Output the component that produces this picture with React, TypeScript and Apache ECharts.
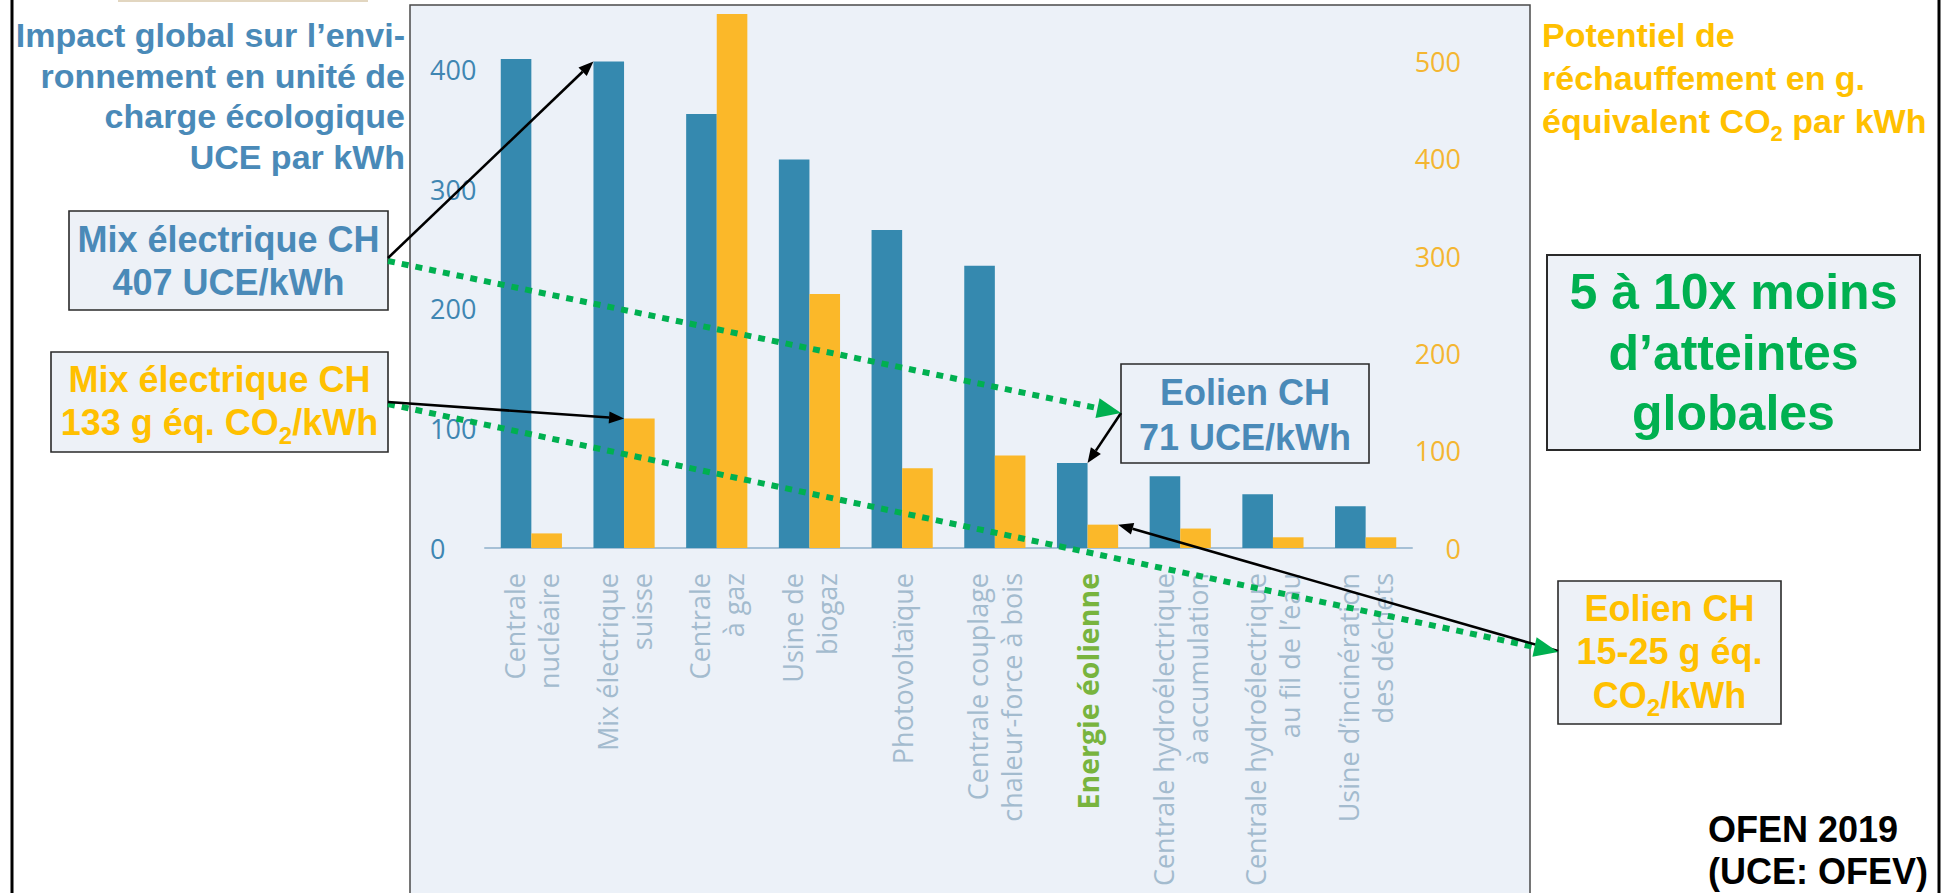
import React, { useEffect, useRef } from "react";
import * as echarts from "echarts";

// ---------- data ----------
const categories = [
  "Centrale\nnucléaire",
  "Mix électrique\nsuisse",
  "Centrale\nà gaz",
  "Usine de\nbiogaz",
  "Photovoltaïque",
  "Centrale couplage\nchaleur-force à bois",
  "Energie éolienne",
  "Centrale hydroélectrique\nà accumulation",
  "Centrale hydroélectrique\nau fil de l’eau",
  "Usine d’incinération\ndes déchets",
];
const highlightIndex = 6;
const uceValues = [409, 407, 363, 325, 266, 236, 71, 60, 45, 35];
const co2Values = [15, 133, 549, 261, 82, 95, 24, 20, 11, 11];
const leftAxisMax = 450;
const rightAxisMax = 553;
const axisInterval = 100;

// ---------- styles ----------
const ARIAL = "'Liberation Sans', Arial, Helvetica, sans-serif";
const AXISFONT = "'Open Sans', 'Noto Sans', sans-serif";
const BLUE_BAR = "#3589AF";
const ORANGE_BAR = "#FBB829";
const BLUE_TXT = "#4A8AB8";
const ORANGE_TXT = "#FFC000";
const GREEN_TXT = "#00B050";
const PANEL = "#ECF1F8";
const BOXFILL = "#EDF1F7";

function head(tx: number, ty: number, fx: number, fy: number, len: number, w: number) {
  const dx = tx - fx, dy = ty - fy;
  const d = Math.hypot(dx, dy);
  const ux = dx / d, uy = dy / d;
  const bx = tx - ux * len, by = ty - uy * len;
  const px = -uy, py = ux;
  return {
    base: [bx, by],
    points: [
      [tx, ty],
      [bx + (px * w) / 2, by + (py * w) / 2],
      [bx - (px * w) / 2, by - (py * w) / 2],
    ],
  };
}

function arrow(fx: number, fy: number, tx: number, ty: number, color: string, lw: number, len: number, w: number, dash?: number[]) {
  const h = head(tx, ty, fx, fy, len, w);
  return [
    {
      type: "line",
      z: 100,
      shape: { x1: fx, y1: fy, x2: h.base[0], y2: h.base[1] },
      style: { stroke: color, lineWidth: lw, lineDash: dash || null, lineCap: "butt" },
    },
    { type: "polygon", z: 101, shape: { points: h.points }, style: { fill: color } },
  ];
}

function textEl(x: number, y: number, text: string, rich: any, align: string, extra?: any) {
  return {
    type: "text",
    z: 102,
    x: 0,
    y: 0,
    style: {
      x,
      y,
      text,
      rich,
      align,
      verticalAlign: "middle",
      textAlign: align,
      textVerticalAlign: "middle",
      ...(extra || {}),
    },
  };
}

function richSet(color: string, fs: number, lh: number, subFs: number, subH: number) {
  return {
    t: { fontFamily: ARIAL, fontWeight: "bold", fontSize: fs, lineHeight: lh, fill: color, color },
    s: {
      fontFamily: ARIAL,
      fontWeight: "bold",
      fontSize: subFs,
      lineHeight: lh,
      height: subH,
      verticalAlign: "bottom",
      fill: color,
      color,
    },
  };
}

function boxRect(x: number, y: number, w: number, h: number, fill: string) {
  return {
    type: "rect",
    z: 99,
    shape: { x, y, width: w, height: h },
    style: { fill, stroke: "#2a2a2a", lineWidth: 1.6 },
  };
}

export default function App() {
  const ref = useRef<HTMLDivElement>(null);
  useEffect(() => {
    document.body.style.margin = "0";
    document.body.style.overflow = "hidden";
    const chart = echarts.init(ref.current!, null, { renderer: "svg" });
    chart.setOption({
      animation: false,
      grid: {
        left: 485,
        right: 536,
        top: 10,
        bottom: 345,
        containLabel: false,
        outerBoundsMode: "none",
      },
      xAxis: {
        type: "category",
        data: categories,
        axisLine: { show: true, lineStyle: { color: "#A6C0D6", width: 2 } },
        axisTick: { show: false },
        axisLabel: {
          interval: 0,
          rotate: 90,
          margin: 25,
          fontSize: 27,
          lineHeight: 34,
          fontFamily: AXISFONT,
          color: "#A3BBCE",
          hideOverlap: false,
          formatter: (v: string, i: number) => (i === highlightIndex ? `{g|${v}}` : v),
          rich: {
            g: { color: "#78B43E", fontWeight: "bold", fontSize: 28.5, fontFamily: AXISFONT, lineHeight: 34 },
          },
        },
      },
      yAxis: [
        {
          type: "value",
          min: 0,
          max: leftAxisMax,
          interval: axisInterval,
          axisLine: { show: false },
          axisTick: { show: false },
          splitLine: { show: false },
          axisLabel: {
            showMaxLabel: false,
            align: "left",
            margin: 55,
            fontSize: 27,
            fontFamily: AXISFONT,
            color: "#3F86B2",
          },
        },
        {
          type: "value",
          position: "right",
          min: 0,
          max: rightAxisMax,
          interval: axisInterval,
          axisLine: { show: false },
          axisTick: { show: false },
          splitLine: { show: false },
          axisLabel: {
            showMaxLabel: false,
            align: "right",
            margin: 49,
            fontSize: 27,
            fontFamily: AXISFONT,
            color: "#F4B631",
          },
        },
      ],
      series: [
        {
          type: "bar",
          name: "UCE/kWh",
          yAxisIndex: 0,
          data: uceValues,
          barGap: "0%",
          barCategoryGap: "34%",
          itemStyle: { color: BLUE_BAR },
        },
        {
          type: "bar",
          name: "g éq. CO2/kWh",
          yAxisIndex: 1,
          data: co2Values,
          barGap: "0%",
          barCategoryGap: "34%",
          itemStyle: { color: ORANGE_BAR },
        },
      ],
    });

    // bar geometry from the chart's own scales
    const c0 = chart.convertToPixel({ seriesIndex: 0 }, [0, 0]) as number[];
    const c1 = chart.convertToPixel({ seriesIndex: 0 }, [1, 0]) as number[];
    const band = c1[0] - c0[0];
    const bw = (band * (1 - 0.34)) / 2;
    const blueTop = (i: number) => {
      const p = chart.convertToPixel({ seriesIndex: 0 }, [i, uceValues[i]]) as number[];
      return { left: p[0] - bw, right: p[0], y: p[1] };
    };
    const orangeTop = (i: number) => {
      const p = chart.convertToPixel({ seriesIndex: 1 }, [i, co2Values[i]]) as number[];
      return { left: p[0], right: p[0] + bw, y: p[1] };
    };
    const mixB = blueTop(1);
    const mixO = orangeTop(1);
    const eolB = blueTop(6);
    const eolO = orangeTop(6);

    const graphics: any[] = [
      // panel background
      {
        type: "rect",
        z: -10,
        shape: { x: 410, y: 5, width: 1120, height: 900 },
        style: { fill: PANEL, stroke: "#4a4a4a", lineWidth: 1.5 },
      },
      // outer frame lines
      { type: "rect", z: 1, shape: { x: 10.5, y: 0, width: 3, height: 893 }, style: { fill: "#000" } },
      { type: "rect", z: 1, shape: { x: 1937.5, y: 0, width: 3, height: 893 }, style: { fill: "#000" } },
      { type: "rect", z: 1, shape: { x: 118, y: 0, width: 250, height: 2 }, style: { fill: "#E2D6C0" } },

      // left title
      textEl(405, 96, "Impact global sur l’envi-\nronnement en unité de\ncharge écologique\nUCE par kWh", undefined, "right", {
        fontFamily: ARIAL,
        fontWeight: "bold",
        fontSize: 34,
        lineHeight: 40.7,
        fill: BLUE_TXT,
      }),
      // right title
      textEl(
        1542,
        78,
        "{t|Potentiel de}\n{t|réchauffement en g.}\n{t|équivalent CO}{s|2}{t| par kWh}",
        richSet(ORANGE_TXT, 34, 43, 22, 18),
        "left"
      ),

      // box Mix CH UCE
      boxRect(69, 211, 319, 99, BOXFILL),
      textEl(228.5, 260.5, "Mix électrique CH\n407 UCE/kWh", undefined, "center", {
        fontFamily: ARIAL,
        fontWeight: "bold",
        fontSize: 36,
        lineHeight: 43,
        fill: BLUE_TXT,
      }),
      // box Mix CH CO2
      boxRect(51, 352, 337, 100, BOXFILL),
      textEl(219.5, 401, "{t|Mix électrique CH}\n{t|133 g éq. CO}{s|2}{t|/kWh}", richSet(ORANGE_TXT, 36, 43, 24, 18), "center"),

      // box Eolien UCE
      boxRect(1121, 364, 248, 99, PANEL),
      textEl(1245, 414.5, "Eolien CH\n71 UCE/kWh", undefined, "center", {
        fontFamily: ARIAL,
        fontWeight: "bold",
        fontSize: 36,
        lineHeight: 45,
        fill: BLUE_TXT,
      }),

      // box 5 a 10x
      {
        type: "rect",
        z: 99,
        shape: { x: 1547, y: 255, width: 373, height: 195 },
        style: { fill: BOXFILL, stroke: "#2a2a2a", lineWidth: 2 },
      },
      textEl(1733.5, 352.5, "5 à 10x moins\nd’atteintes\nglobales", undefined, "center", {
        fontFamily: ARIAL,
        fontWeight: "bold",
        fontSize: 50,
        lineHeight: 60.5,
        fill: GREEN_TXT,
      }),

      // box Eolien CO2
      boxRect(1558, 581, 223, 143, BOXFILL),
      textEl(1669.5, 651.5, "{t|Eolien CH}\n{t|15-25 g éq.}\n{t|CO}{s|2}{t|/kWh}", richSet(ORANGE_TXT, 36, 43.5, 24, 18), "center"),

      // source
      textEl(1708, 850, "OFEN 2019\n(UCE: OFEV)", undefined, "left", {
        fontFamily: ARIAL,
        fontWeight: "bold",
        fontSize: 36,
        lineHeight: 42,
        fill: "#000",
      }),
    ];

    // green dotted arrows
    graphics.push(...arrow(388, 261, 1121, 413, "#00B050", 6, 24, 20, [7, 7]));
    graphics.push(...arrow(388, 404, 1558, 652, "#00B050", 6, 24, 20, [7, 7]));
    // black arrows to bars
    graphics.push(...arrow(388, 258, mixB.left, mixB.y, "#000", 2.6, 15, 12));
    graphics.push(...arrow(388, 402, mixO.left, mixO.y, "#000", 2.6, 15, 12));
    graphics.push(...arrow(1121, 413, eolB.right, eolB.y, "#000", 2.6, 15, 12));
    graphics.push(...arrow(1558, 651, eolO.right, eolO.y, "#000", 2.6, 15, 12));

    chart.setOption({ graphic: graphics });
    return () => chart.dispose();
  }, []);
  return (
    <div
      ref={ref}
      style={{ position: "absolute", left: 0, top: 0, width: 1948, height: 893, background: "#ffffff" }}
    />
  );
}
